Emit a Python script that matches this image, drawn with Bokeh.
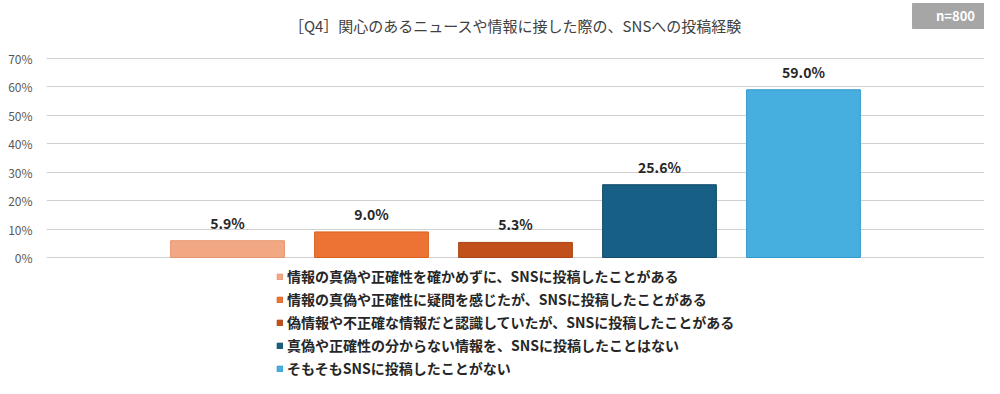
from bokeh.plotting import figure
from bokeh.models import ColumnDataSource, FactorRange, Range1d, FixedTicker, PrintfTickFormatter, Label, BoxAnnotation
from bokeh.core.properties import value
from bokeh.embed import file_html
from bokeh.resources import INLINE

categories = [
    "情報の真偽や正確性を確かめずに、SNSに投稿したことがある",
    "情報の真偽や正確性に疑問を感じたが、SNSに投稿したことがある",
    "偽情報や不正確な情報だと認識していたが、SNSに投稿したことがある",
    "真偽や正確性の分からない情報を、SNSに投稿したことはない",
    "そもそもSNSに投稿したことがない",
]
values = [5.9, 9.0, 5.3, 25.6, 59.0]
fill_colors = ["#F2A883", "#EC7334", "#C1501B", "#175F85", "#46AFE0"]
line_colors = ["#E4956E", "#D8621F", "#A84515", "#114A6A", "#3499CC"]
y_ticks = [0, 10, 20, 30, 40, 50, 60, 70]
title_text = "［Q4］関心のあるニュースや情報に接した際の、SNSへの投稿経験"
n_text = "n=800"

labels = [f"{v:.1f}%" for v in values]
src = ColumnDataSource(dict(cat=categories, val=values, fill=fill_colors,
                            line=line_colors, lab=labels))

JP = "Noto Sans CJK JP"

p = figure(width=984, height=378, output_backend="svg", toolbar_location=None,
           x_range=FactorRange(factors=categories, range_padding=0.757,
                               range_padding_units="absolute"),
           y_range=Range1d(-42.56, 90.4),
           min_border_left=46, min_border_right=0, min_border_top=0,
           min_border_bottom=0)
p.outline_line_color = None
p.background_fill_color = "white"
p.border_fill_color = "white"

p.vbar(x="cat", top="val", width=0.79, source=src, fill_color="fill",
       line_color="line", line_width=1, legend_field="cat")

p.text(x="cat", y="val", text="lab", source=src, text_align="center",
       text_baseline="bottom", y_offset=-8, text_font=value(JP),
       text_font_size="14px", text_font_style="bold", text_color="#262626")

p.xaxis.visible = False
p.xgrid.visible = False
p.yaxis.ticker = FixedTicker(ticks=y_ticks)
p.yaxis.formatter = PrintfTickFormatter(format="%d%%")
p.yaxis.axis_line_color = None
p.yaxis.major_tick_line_color = None
p.yaxis.minor_tick_line_color = None
p.yaxis.major_label_standoff = 8
p.yaxis.major_label_text_font = JP
p.yaxis.major_label_text_font_size = "12px"
p.yaxis.major_label_text_color = "#595959"
p.ygrid.ticker = FixedTicker(ticks=y_ticks)
p.ygrid.grid_line_color = "#D0D0D0"
p.ygrid.grid_line_width = 1

lg = p.legend[0]
lg.location = (230, 0)
lg.background_fill_alpha = 0
lg.border_line_color = None
lg.padding = 0
lg.margin = 0
lg.glyph_width = 7
lg.glyph_height = 7
lg.label_standoff = 4
lg.label_height = 17
lg.spacing = 3
lg.label_text_font = JP
lg.label_text_font_size = "14px"
lg.label_text_color = "#262626"
lg.label_text_font_style = "bold"

p.add_layout(Label(x=469, y=353, x_units="screen", y_units="screen",
                   text=title_text, text_align="center", text_baseline="middle",
                   text_font=JP, text_font_size="15px", text_color="#404040"))

p.add_layout(BoxAnnotation(left=866, right=960, bottom=350, top=375,
                           left_units="screen", right_units="screen",
                           bottom_units="screen", top_units="screen",
                           fill_color="#A6A6A6", fill_alpha=1,
                           line_color="#A6A6A6", line_alpha=1))
p.add_layout(Label(x=909, y=363, x_units="screen", y_units="screen",
                   text=n_text, text_align="center", text_baseline="middle",
                   text_font=JP, text_font_size="13px", text_font_style="bold",
                   text_color="white"))

open("out.html", "w").write(file_html(p, INLINE))
